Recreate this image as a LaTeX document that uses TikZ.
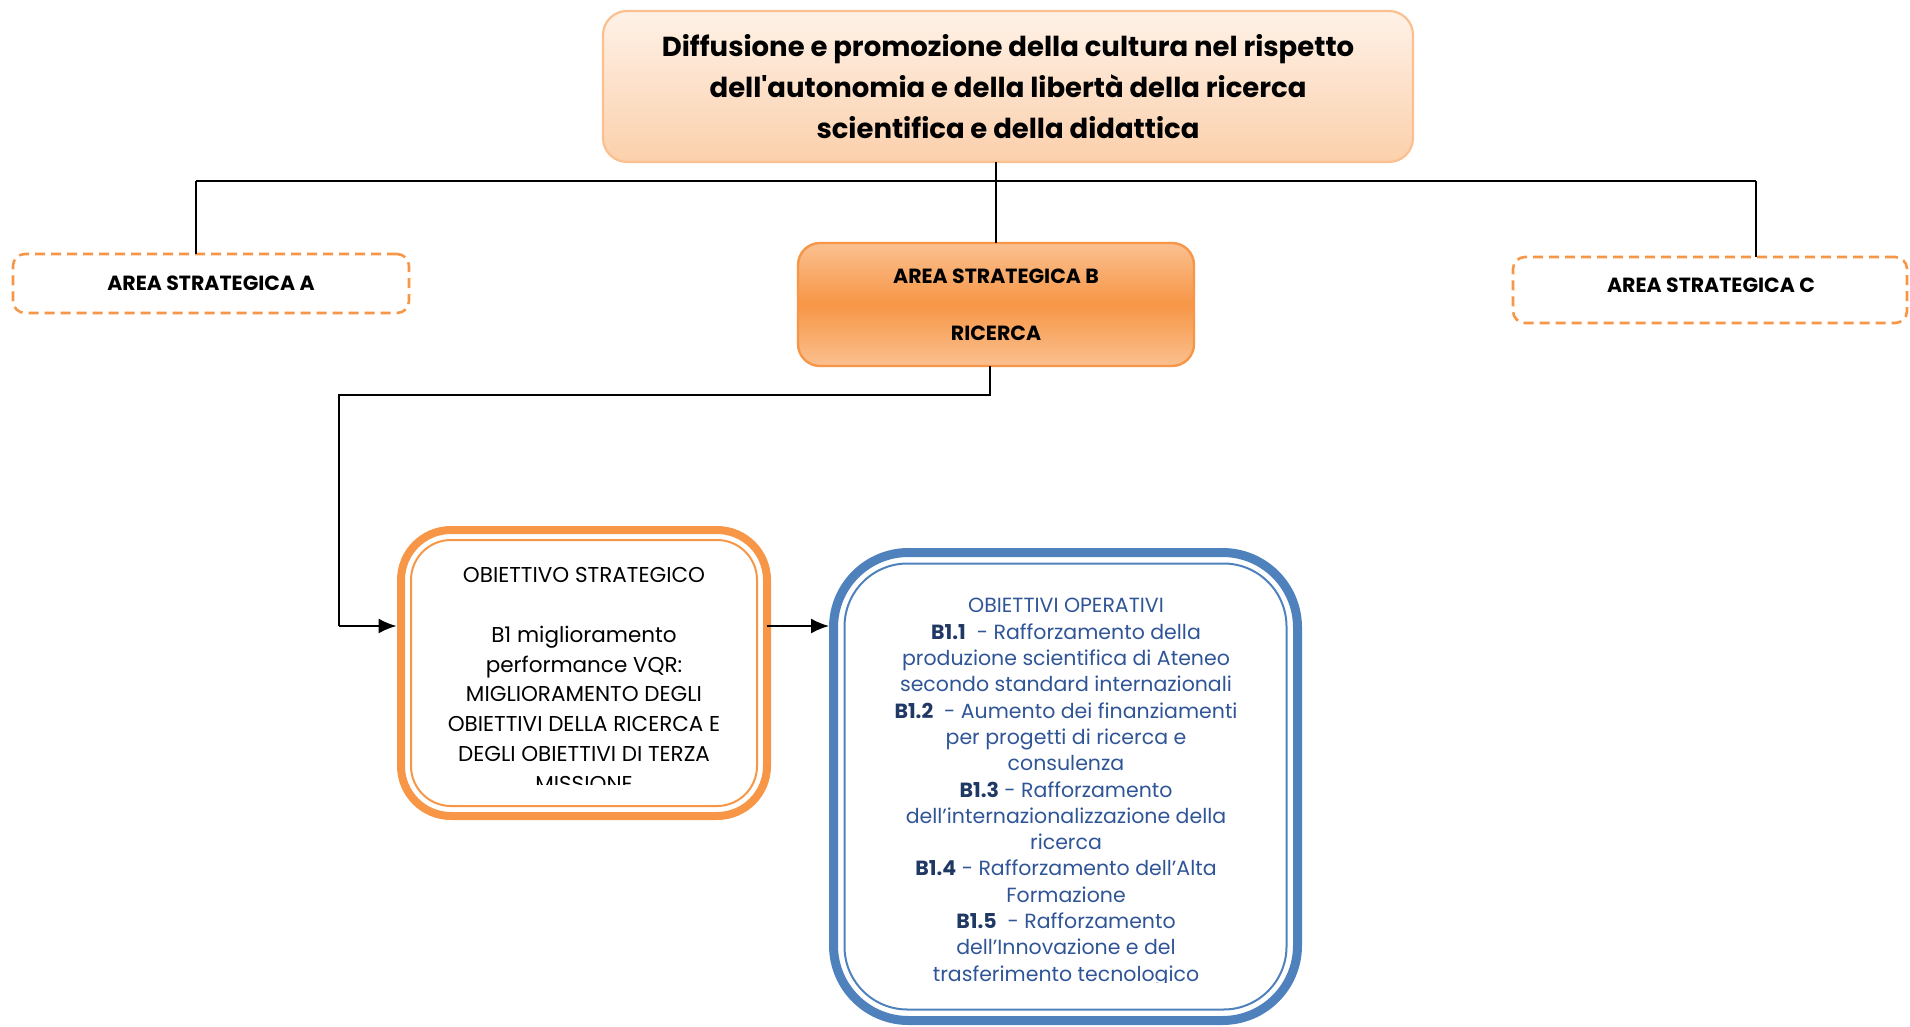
\documentclass[tikz,border=0pt]{standalone}
\usepackage{fontspec}
\setmainfont{Poppins}
\newfontfamily\titlefont{Poppins}
\usetikzlibrary{arrows.meta}
\definecolor{orng}{HTML}{F79646}
\definecolor{orngline}{HTML}{FAC090}
\definecolor{blu}{HTML}{4F81BD}
\definecolor{bltext}{HTML}{2F5597}
\definecolor{bldark}{HTML}{1F3864}
\tikzset{
  conn/.style={draw=black,line width=1.8},
  arr/.style={conn,-{Latex[length=18pt,width=15pt]},shorten >=4.5pt},
  dashbox/.style={draw=orng,line width=2.6,dash pattern=on 10 off 6,rounded corners=12,outer sep=0},
  areatext/.style={font=\fontsize{20.5}{24}\selectfont\bfseries},
}
\begin{document}
\begin{tikzpicture}[x=1pt,y=-1pt]
\useasboundingbox (0,0) rectangle (1910,1027);
% title
\node[draw=orngline,line width=2.2,rounded corners=24,top color=white!35!orng!20,bottom color=orng!45,
  minimum width=810,minimum height=151,outer sep=0,align=center,
  font=\titlefont\fontsize{27.5}{41}\selectfont\bfseries] (title) at (1008,86.5)
  {Diffusione e promozione della cultura nel rispetto\\dell'autonomia e della libertà della ricerca\\scientifica e della didattica};
% areas
\node[dashbox,minimum width=396,minimum height=59,areatext] (A) at (211,283.5) {AREA STRATEGICA A};
\node[dashbox,minimum width=394,minimum height=66,areatext] (C) at (1710,290) {};
\node[areatext] (Ct) at (1711,285) {AREA STRATEGICA C};
\node[draw=orng,line width=2.4,rounded corners=22,top color=orng!60,bottom color=orng!60,middle color=orng,
  minimum width=396,minimum height=123,outer sep=0,align=center,areatext] (B) at (996,304.5)
  {AREA STRATEGICA B\\[33pt]RICERCA};
% connectors top
\coordinate (ja) at (196,181);
\coordinate (jc) at (1756,181);
\draw[conn] (title.south -| B.north) -- (B.north);
\draw[conn] (ja) -- (jc);
\draw[conn] (ja) -- (ja |- A.north);
\draw[conn] (jc) -- (jc |- C.north);
% objective box
\node[draw=orng,line width=8,rounded corners=50,minimum width=366,minimum height=286,outer sep=0] (ob) at (584,673) {};
\draw[orng,line width=2,rounded corners=40] ([shift={(10,10)}]ob.north west) rectangle ([shift={(-10,-10)}]ob.south east);
\begin{scope}
\clip (400,540) rectangle (770,784);
\node[align=center,anchor=north,font=\fontsize{21.5}{29.8}\selectfont] (obt) at (584,564)
  {OBIETTIVO STRATEGICO\\[29.8pt]B1 miglioramento\\performance VQR:\\MIGLIORAMENTO DEGLI\\OBIETTIVI DELLA RICERCA E\\DEGLI OBIETTIVI DI TERZA\\MISSIONE};
\end{scope}
% operative box
\node[draw=blu,line width=9,rounded corners=75,minimum width=464,minimum height=468,outer sep=0] (bb) at (1065.5,786.5) {};
\draw[blu,line width=2,rounded corners=63] ([shift={(11,11)}]bb.north west) rectangle ([shift={(-11,-11)}]bb.south east);
\begin{scope}
\clip (840,560) rectangle (1290,982);
\node[align=center,anchor=north,text=bltext,font=\fontsize{20.5}{26.3}\selectfont] (bbt) at (1066,595)
  {OBIETTIVI OPERATIVI\\
  \textcolor{bldark}{\bfseries B1.1}\ \ - Rafforzamento della\\
  produzione scientifica di Ateneo\\
  secondo standard internazionali\\
  \textcolor{bldark}{\bfseries B1.2}\ \ - Aumento dei finanziamenti\\
  per progetti di ricerca e\\
  consulenza\\
  \textcolor{bldark}{\bfseries B1.3} - Rafforzamento\\
  dell’internazionalizzazione della\\
  ricerca\\
  \textcolor{bldark}{\bfseries B1.4} - Rafforzamento dell’Alta\\
  Formazione\\
  \textcolor{bldark}{\bfseries B1.5}\ \ - Rafforzamento\\
  dell’Innovazione e del\\
  trasferimento tecnologico};
\end{scope}
% connectors lower
\coordinate (jb) at (990,395);
\coordinate (ka) at (339,626);
\draw[conn] (B.south -| jb) -- (jb) -| (ka);
\draw[arr] (ka) -- (ka -| ob.west);
\draw[arr] (ob.east |- ka) -- (bb.west |- ka);
\end{tikzpicture}
\end{document}
